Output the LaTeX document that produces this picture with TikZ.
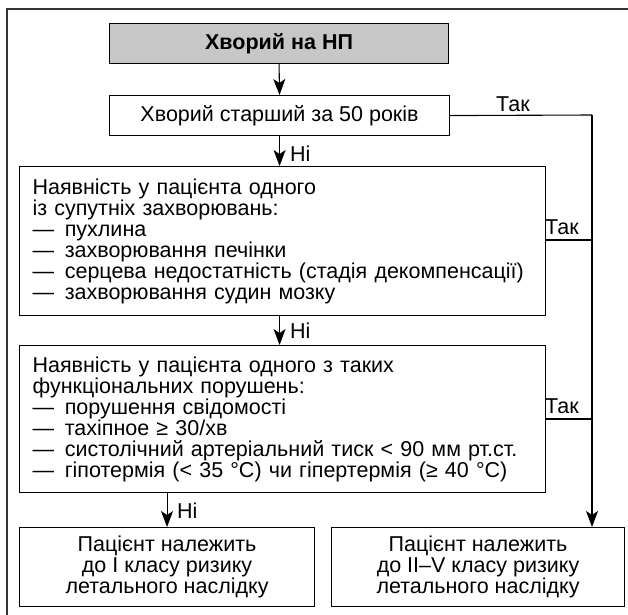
\documentclass[tikz,border=0pt]{standalone}
\usepackage{fontspec}
\setmainfont{Liberation Sans}
\usetikzlibrary{arrows.meta}
\begin{document}
\begin{tikzpicture}[x=1pt,y=-1pt,
  every node/.style={font=\fontsize{21.5}{21}\selectfont},
  box/.style={draw, line width=1.1pt, rectangle, inner sep=0pt, anchor=north west},
  conn/.style={line width=1.1pt},
  arr/.style={line width=1.1pt, -{Stealth[length=16pt,width=12pt,inset=4pt]}},
  lbl/.style={inner sep=0pt}
]
\useasboundingbox (0,0) rectangle (628,614);
% outer frame
\draw[line width=1.6pt, black!80] (7,640) -- (7,9) -- (640,9);

% boxes
\node[box, fill=black!22, minimum width=339pt, minimum height=40pt] (g) at (109,23) {\textbf{Хворий на НП}};
\node[box, minimum width=340pt, minimum height=40pt] (b2) at (109,95) {Хворий старший за 50 років};
\node[box, minimum width=519pt, minimum height=149pt, text width=500pt, inner xsep=13pt, align=left] (b3) at (19,166) {%
Наявність у пацієнта одного\\
із супутніх захворювань:\\
—\hspace{0.5em}пухлина\\
—\hspace{0.5em}захворювання печінки\\
—\hspace{0.5em}серцева недостатність (стадія декомпенсації)\\
—\hspace{0.5em}захворювання судин мозку};
\node[box, minimum width=519pt, minimum height=147pt, text width=500pt, inner xsep=13pt, align=left] (b4) at (19,345) {%
Наявність у пацієнта одного з таких\\
функціональних порушень:\\
—\hspace{0.5em}порушення свідомості\\
—\hspace{0.5em}тахіпное ≥ 30/хв\\
—\hspace{0.5em}систолічний артеріальний тиск < 90 мм рт.ст.\\
—\hspace{0.5em}гіпотермія (< 35 °C) чи гіпертермія (≥ 40 °C)};
\node[box, minimum width=295pt, minimum height=79pt, align=center] (b5) at (19,527) {Пацієнт належить\\до I класу ризику\\летального наслідку};
\node[box, minimum width=293pt, minimum height=79pt, align=center] (b6) at (331,527) {Пацієнт належить\\до II–V класу ризику\\летального наслідку};

% coordinates
\coordinate (c1) at (592,115);
\coordinate (c2) at (592,240);
\coordinate (c3) at (592,419);
\coordinate (c6) at (592,527);

% connectors
\draw[arr] (g.south) -- (b2.north);
\draw[arr] (b2.south) -- (b3.north -| b2.south);
\draw[arr] (b3.south -| b2.south) -- (b4.north -| b2.south);
\draw[arr] (b4.south -| b5.north) -- (b5.north);
\draw[conn] (b2.east) -- (c1);
\draw[arr] (c1) -- (c6);
\draw[conn] (b3.east |- c2) -- (c2);
\draw[conn] (b4.east |- c3) -- (c3);

% labels
\node[lbl, anchor=south west] (t1) at (496,112) {Так};
\node[lbl, anchor=south west] (t2) at (545,235) {Так};
\node[lbl, anchor=south west] (t3) at (545,414) {Так};
\node[lbl, anchor=west] (n1) at (290,154) {Ні};
\node[lbl, anchor=west] (n2) at (290,331) {Ні};
\node[lbl, anchor=west] (n3) at (177,511) {Ні};
\end{tikzpicture}
\end{document}
